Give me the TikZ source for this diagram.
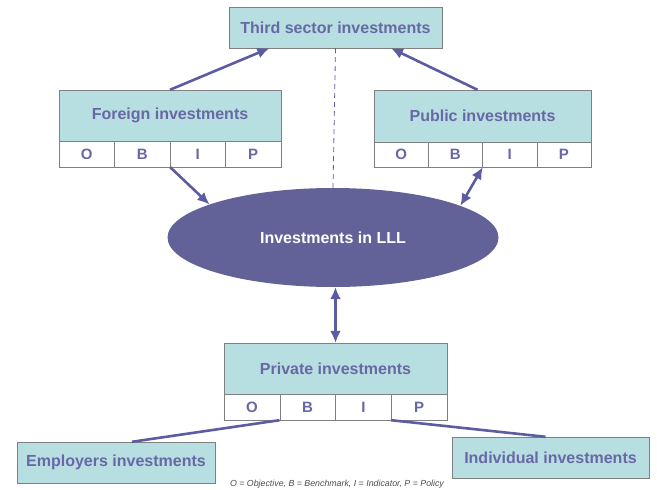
\documentclass[tikz,border=0pt]{standalone}
\usepackage{fontspec}
\setmainfont{Liberation Sans}
\usetikzlibrary{arrows.meta,calc,shapes.geometric}
\definecolor{boxteal}{RGB}{183,222,224}
\definecolor{inktext}{RGB}{104,104,166}
\definecolor{ovalfill}{RGB}{98,98,152}
\definecolor{arrowink}{RGB}{92,92,162}
\definecolor{rulegray}{RGB}{128,128,128}
\begin{document}
\begin{tikzpicture}
    [
  x=1pt, y=-1pt,
  head/.style={
    rectangle,
    draw=rulegray,
    fill=boxteal,
    text=inktext,
    font=\fontsize{16}{19}\selectfont\bfseries,
    inner sep=0pt
  },
  cell/.style={
    rectangle,
    draw=rulegray,
    fill=white,
    text=inktext,
    font=\fontsize{15}{18}\selectfont\bfseries,
    inner sep=0pt
  },
  oval/.style={
    ellipse,
    fill=ovalfill,
    text=white,
    font=\fontsize{16}{19}\selectfont\bfseries,
    minimum width=331pt,
    minimum height=99pt
  },
  link/.style={
    arrowink,
    line width=2.6pt
  },
  tip/.tip={Latex[length=12pt,width=11pt]}
  ]
  \useasboundingbox (0,0) rectangle (657,490);

  % top box and the investment ellipse
  \node (third) at (335.5,27.5) [head, minimum width=213pt, minimum height=41pt] {Third sector investments};
  \node (lll) at (333,237.5) [oval] {Investments in LLL};

  % foreign investments
  \node (foreign) at (170,115.5) [head, minimum width=222pt, minimum height=51pt] {Foreign investments};
  \node (fO) at (86.75,154) [cell, minimum width=55.5pt, minimum height=26pt] {O};
  \node (fB) at (142.25,154) [cell, minimum width=55.5pt, minimum height=26pt] {B};
  \node (fI) at (197.75,154) [cell, minimum width=55.5pt, minimum height=26pt] {I};
  \node (fP) at (253.25,154) [cell, minimum width=55.5pt, minimum height=26pt] {P};

  % public investments
  \node (public) at (482.5,116) [head, minimum width=217pt, minimum height=52pt] {Public investments};
  \node (pO) at (401.1,154.5) [cell, minimum width=54.25pt, minimum height=25pt] {O};
  \node (pB) at (455.4,154.5) [cell, minimum width=54.25pt, minimum height=25pt] {B};
  \node (pI) at (509.6,154.5) [cell, minimum width=54.25pt, minimum height=25pt] {I};
  \node (pP) at (563.9,154.5) [cell, minimum width=54.25pt, minimum height=25pt] {P};

  % private investments
  \node (private) at (335.5,368.5) [head, minimum width=223pt, minimum height=51pt] {Private investments};
  \node (rO) at (251.9,407) [cell, minimum width=55.75pt, minimum height=26pt] {O};
  \node (rB) at (307.6,407) [cell, minimum width=55.75pt, minimum height=26pt] {B};
  \node (rI) at (363.4,407) [cell, minimum width=55.75pt, minimum height=26pt] {I};
  \node (rP) at (419.1,407) [cell, minimum width=55.75pt, minimum height=26pt] {P};

  \node (employers) at (116,462.5) [head, minimum width=198pt, minimum height=41pt] {Employers investments};
  \node (individual) at (550.5,457.5) [head, minimum width=197pt, minimum height=41pt] {Individual investments};

  \node (legend) at (337,484) [text=black!70, font=\fontsize{8.8}{10}\selectfont\itshape] {O = Objective, B = Benchmark, I = Indicator, P = Policy};

  % connectors
  \draw [link, -tip] (foreign.north) -- ($(third.south west)!.19!(third.south east)$);
  \draw [link, -tip] ([xshift=-5pt]public.north) -- ($(third.south west)!.76!(third.south east)$);
  \draw [arrowink, line width=0.8pt, dash pattern=on 5pt off 4pt] (third.south) -- (lll.north);
  \draw [link, -tip] (fB.south east) -- (lll.165);
  \draw [link, tip-tip] (pB.south east) -- (lll.14);
  \draw [link, tip-tip] (private.north |- lll.south) -- (private.north);
  \draw [link] (rB.south west) -- ([xshift=16pt]employers.north);
  \draw [link] (rP.south west) -- ([xshift=-5pt]individual.north);
\end{tikzpicture}
\end{document}
